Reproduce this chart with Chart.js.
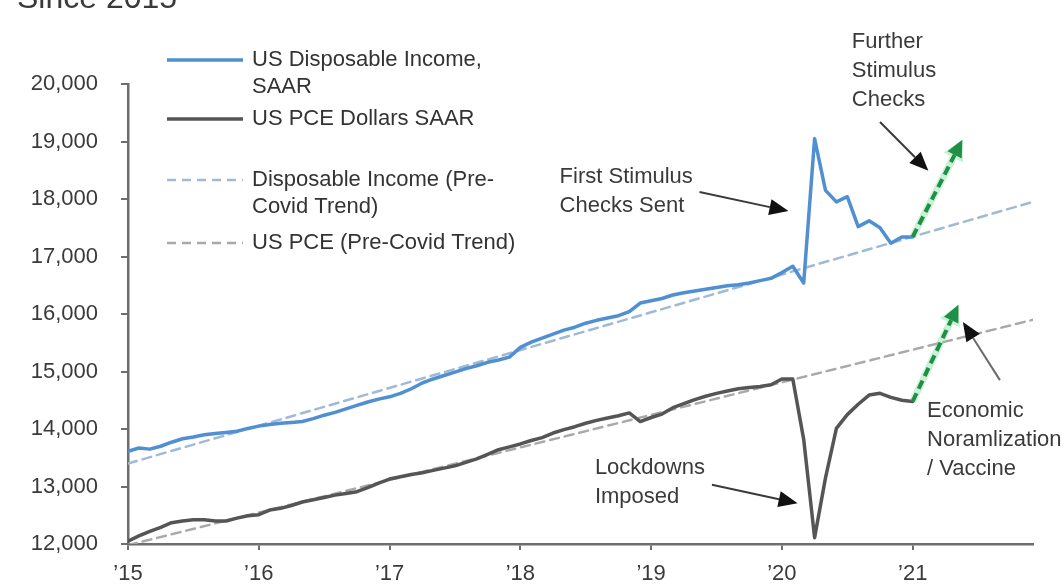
<!DOCTYPE html>
<html>
<head>
<meta charset="utf-8">
<title>US Disposable Income vs PCE</title>
<script src="https://cdn.jsdelivr.net/npm/chart.js@4.4.1/dist/chart.umd.min.js"></script>
<style>
  html, body { margin: 0; padding: 0; background: #fff; }
  canvas { display: block; }
</style>
</head>
<body>
<canvas id="incomeChart" width="1063" height="584"></canvas>
<script>
// Monthly values, Jan 2015 through Jan 2021 ($bn, SAAR)
const startYear = 2015;
const disposableIncome = [
    13610, 13670, 13650, 13700, 13770, 13830, 13860, 13900, 13920, 13940, 13960, 14010,
    14050, 14080, 14100, 14115, 14130, 14180, 14240, 14290, 14350, 14410, 14470, 14520,
    14560, 14620, 14700, 14800, 14870, 14930, 14990, 15050, 15100, 15160, 15200, 15250,
    15420, 15510, 15580, 15650, 15720, 15770, 15840, 15890, 15930, 15970, 16040, 16190,
    16230, 16270, 16330, 16370, 16400, 16430, 16460, 16490, 16510, 16540, 16580, 16620,
    16720, 16830, 16540, 19050, 18150, 17950, 18040, 17520, 17620, 17500, 17230, 17340,
    17340
];
const pceDollars = [
    12050, 12140, 12220, 12290, 12370, 12400, 12420, 12420, 12400, 12400, 12450, 12490,
    12510, 12590, 12620, 12670, 12730, 12770, 12810, 12850, 12880, 12910, 12980, 13060,
    13130, 13170, 13210, 13240, 13280, 13320, 13360, 13420, 13480, 13560, 13640, 13690,
    13740, 13800, 13850, 13930, 13990, 14040, 14100, 14150, 14190, 14230, 14280, 14130,
    14200, 14260, 14370, 14440, 14510, 14570, 14620, 14660, 14700, 14720, 14740, 14770,
    14870, 14870, 13820, 12110, 13150, 14010, 14250, 14430, 14590, 14620, 14550, 14500,
    14480
];

// Pre-Covid trend lines (straight, start and end values)
const trendYears = [2015, 2021.92];
const incomeTrend = [13400, 17950];
const pceTrend = [11980, 15900];

const yearTicks = [2015, 2016, 2017, 2018, 2019, 2020, 2021];
const yearLabels = ['\u201915', '\u201916', '\u201917', '\u201918', '\u201919', '\u201920', '\u201921'];
const valueTicks = [12000, 13000, 14000, 15000, 16000, 17000, 18000, 19000, 20000];

const FONT = '"Liberation Sans", Arial, sans-serif';
const TEXT_COLOR = '#3a3a3a';

const toPoints = values => values.map((v, i) => ({ x: startYear + i / 12, y: v }));
const toTrend = values => trendYears.map((x, i) => ({ x: x, y: values[i] }));

// Text callouts with arrows, in data coordinates
const callouts = [
    { lines: ['First Stimulus', 'Checks Sent'], at: [2018.30, 18380], from: [2019.37, 18120], to: [2020.05, 17790] },
    { lines: ['Further', 'Stimulus', 'Checks'], at: [2020.535, 20730], from: [2020.75, 19340], to: [2021.12, 18490] },
    { lines: ['Lockdowns', 'Imposed'], at: [2018.57, 13320], from: [2019.465, 13030], to: [2020.12, 12710] },
    { lines: ['Economic', 'Noramlization', '/ Vaccine'], at: [2021.11, 14310], from: [2021.667, 14850], to: [2021.384, 15860], shaft: '#6a6a6a' }
];

// Green projected recovery arrows from the last value of a series
const projections = [
    { dataset: 0, to: [2021.38, 19030] },
    { dataset: 1, to: [2021.35, 16160] }
];

const legendRows = [
    { dataset: 0, lines: ['US Disposable Income,', 'SAAR'], y: 60 },
    { dataset: 1, lines: ['US PCE Dollars SAAR'], y: 119 },
    { dataset: 2, lines: ['Disposable Income (Pre-', 'Covid Trend)'], y: 180 },
    { dataset: 3, lines: ['US PCE (Pre-Covid Trend)'], y: 243 }
];

function drawArrow(ctx, x1, y1, x2, y2, opts) {
    const ang = Math.atan2(y2 - y1, x2 - x1);
    const headLen = opts.headLen || 18;
    const headW = opts.headW || 8;
    const bx = x2 - headLen * Math.cos(ang);
    const by = y2 - headLen * Math.sin(ang);

    ctx.save();
    ctx.strokeStyle = opts.color;
    ctx.lineWidth = opts.width;
    ctx.setLineDash(opts.dash || []);
    ctx.beginPath();
    ctx.moveTo(x1, y1);
    ctx.lineTo(bx, by);
    ctx.stroke();

    ctx.setLineDash([]);
    ctx.fillStyle = opts.headColor || opts.color;
    ctx.beginPath();
    ctx.moveTo(x2, y2);
    ctx.lineTo(bx + headW * Math.sin(ang), by - headW * Math.cos(ang));
    ctx.lineTo(bx - headW * Math.sin(ang), by + headW * Math.cos(ang));
    ctx.closePath();
    ctx.fill();
    ctx.restore();
}

const overlayPlugin = {
    id: 'overlay',
    afterDatasetsDraw(chart) {
        const ctx = chart.ctx;
        const xs = chart.scales.x;
        const ys = chart.scales.y;
        const px = p => [xs.getPixelForValue(p[0]), ys.getPixelForValue(p[1])];

        // projections
        projections.forEach(p => {
            const data = chart.data.datasets[p.dataset].data;
            const [x1, y1] = px([data[data.length - 1].x, data[data.length - 1].y]);
            const [x2, y2] = px(p.to);
            drawArrow(ctx, x1, y1, x2, y2, { color: 'rgba(120, 220, 150, 0.4)', width: 7, headLen: 20, headW: 11 });
            drawArrow(ctx, x1, y1, x2, y2, { color: '#1f8f45', width: 4, dash: [9, 5], headLen: 17, headW: 8 });
        });

        // callouts
        ctx.save();
        ctx.font = '22px ' + FONT;
        ctx.fillStyle = TEXT_COLOR;
        ctx.textAlign = 'left';
        ctx.textBaseline = 'middle';
        callouts.forEach(c => {
            const [tx, ty] = px(c.at);
            c.lines.forEach((line, i) => ctx.fillText(line, tx, ty + i * 29));
            const [x1, y1] = px(c.from);
            const [x2, y2] = px(c.to);
            drawArrow(ctx, x1, y1, x2, y2, { color: c.shaft || '#3a3a3a', headColor: '#111', width: 2, headLen: 19, headW: 8 });
        });
        ctx.restore();

        // legend
        ctx.save();
        ctx.font = '22px ' + FONT;
        ctx.fillStyle = '#333';
        ctx.textBaseline = 'middle';
        legendRows.forEach(row => {
            const ds = chart.data.datasets[row.dataset];
            ctx.save();
            ctx.strokeStyle = ds.borderColor;
            ctx.lineWidth = ds.borderWidth;
            ctx.setLineDash(ds.borderDash || []);
            ctx.beginPath();
            ctx.moveTo(167, row.y);
            ctx.lineTo(243, row.y);
            ctx.stroke();
            ctx.restore();
            row.lines.forEach((line, i) => ctx.fillText(line, 252, row.y + i * 27));
        });
        ctx.restore();

        // title, cut off by the top edge
        ctx.save();
        ctx.font = '32px ' + FONT;
        ctx.fillStyle = '#3a3a3a';
        ctx.textBaseline = 'alphabetic';
        ctx.fillText('Since 2015', 17, 8);
        ctx.restore();
    }
};

const axisColor = '#6d6d6d';

new Chart(document.getElementById('incomeChart'), {
    type: 'line',
    data: {
        datasets: [
            {
                label: 'US Disposable Income, SAAR',
                data: toPoints(disposableIncome),
                borderColor: '#4f8fd2',
                borderWidth: 3.5
            },
            {
                label: 'US PCE Dollars SAAR',
                data: toPoints(pceDollars),
                borderColor: '#555555',
                borderWidth: 3.5
            },
            {
                label: 'Disposable Income (Pre-Covid Trend)',
                data: toTrend(incomeTrend),
                borderColor: '#9fbad6',
                borderWidth: 2.5,
                borderDash: [9, 6]
            },
            {
                label: 'US PCE (Pre-Covid Trend)',
                data: toTrend(pceTrend),
                borderColor: '#a9a9a9',
                borderWidth: 2.5,
                borderDash: [9, 6]
            }
        ]
    },
    options: {
        responsive: false,
        animation: false,
        devicePixelRatio: 1,
        elements: {
            point: { radius: 0 },
            line: { tension: 0, borderCapStyle: 'round', borderJoinStyle: 'round' }
        },
        layout: { padding: { top: 84, right: 30, bottom: 0, left: 0 } },
        plugins: {
            legend: { display: false },
            tooltip: { enabled: false }
        },
        scales: {
            x: {
                type: 'linear',
                min: 2015,
                max: 2021.92,
                afterBuildTicks: scale => { scale.ticks = yearTicks.map(v => ({ value: v })); },
                afterFit: scale => { scale.height = 40; },
                border: { color: axisColor, width: 2.5 },
                grid: { drawOnChartArea: false, drawTicks: true, tickLength: 6, color: axisColor, lineWidth: 2 },
                ticks: {
                    autoSkip: false,
                    maxRotation: 0,
                    padding: 11,
                    color: TEXT_COLOR,
                    font: { family: FONT, size: 22 },
                    callback: (value, index) => yearLabels[index]
                }
            },
            y: {
                min: 12000,
                max: 20000,
                afterBuildTicks: scale => { scale.ticks = valueTicks.map(v => ({ value: v })); },
                afterFit: scale => { scale.width = 128; },
                border: { color: axisColor, width: 2.5 },
                grid: { drawOnChartArea: false, drawTicks: true, tickLength: 7, color: axisColor, lineWidth: 2 },
                ticks: {
                    padding: 23,
                    color: TEXT_COLOR,
                    font: { family: FONT, size: 22 },
                    callback: value => value.toLocaleString('en-US')
                }
            }
        }
    },
    plugins: [overlayPlugin]
});
</script>
</body>
</html>
